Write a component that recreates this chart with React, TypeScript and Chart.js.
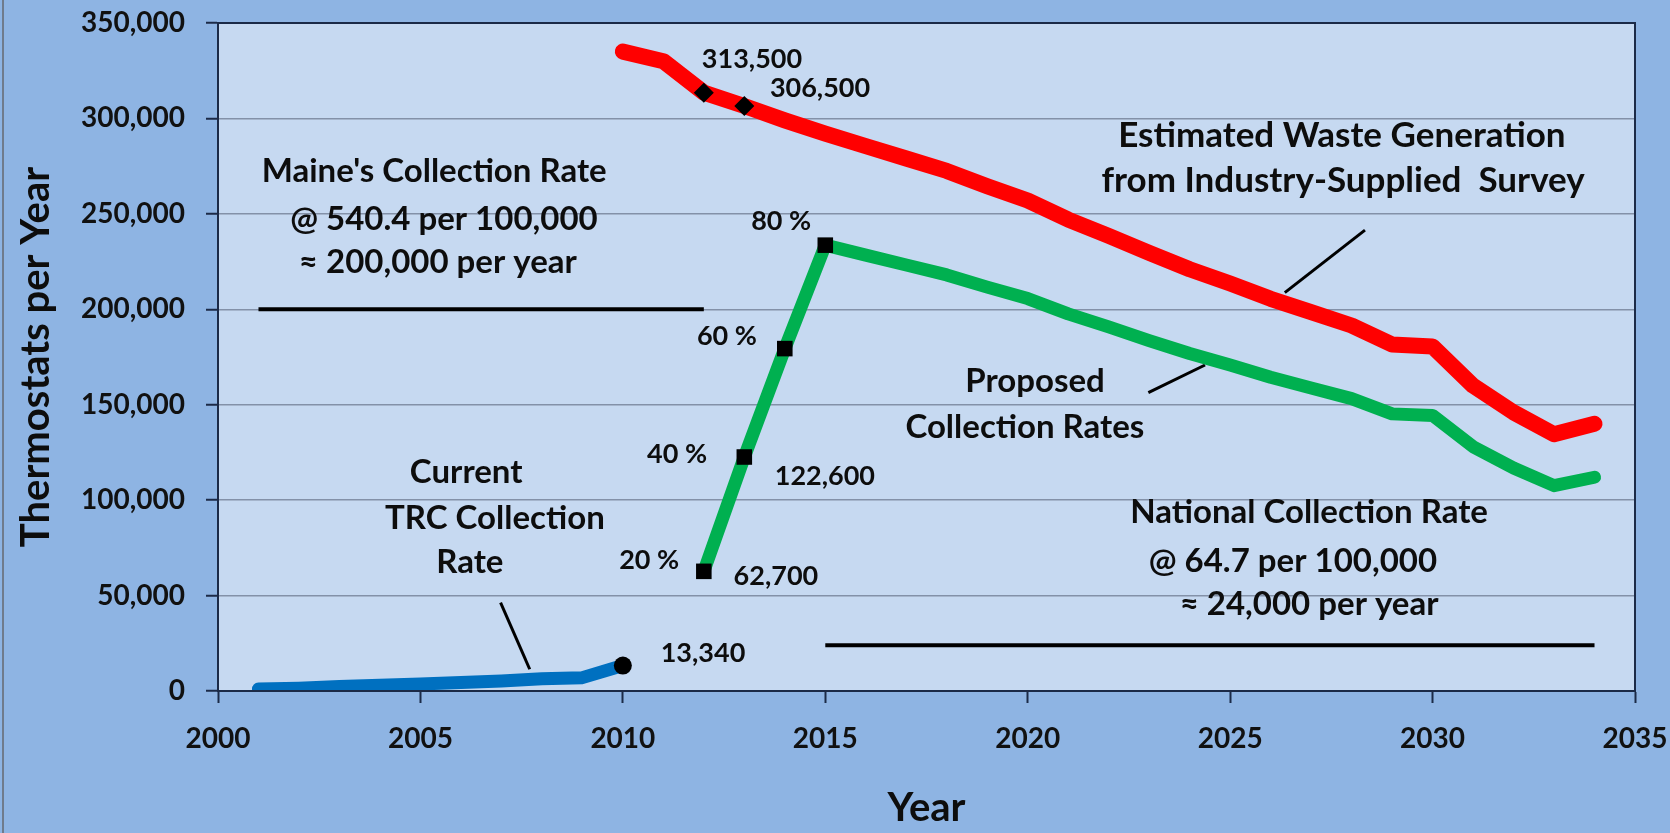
import React, { useEffect, useRef } from "react";
import { Chart, registerables } from "chart.js";

Chart.register(...registerables);

// ---------- data ----------
const generationYears = [2010, 2011, 2012, 2013, 2014, 2015, 2016, 2017, 2018, 2019, 2020, 2021, 2022, 2023, 2024, 2025, 2026, 2027, 2028, 2029, 2030, 2031, 2032, 2033, 2034];
const generationValues = [335000, 330000, 313500, 306500, 299000, 292000, 285500, 279000, 272500, 264500, 257000, 247000, 238500, 229500, 221000, 213500, 205500, 198500, 191500, 181500, 180500, 160000, 146000, 134500, 140000];

const collectionYears = [2012, 2013, 2014, 2015, 2016, 2017, 2018, 2019, 2020, 2021, 2022, 2023, 2024, 2025, 2026, 2027, 2028, 2029, 2030, 2031, 2032, 2033, 2034];
const collectionValues = [62700, 122600, 179400, 233600, 228400, 223200, 218000, 211600, 205600, 197600, 190800, 183600, 176800, 170800, 164400, 158800, 153200, 145200, 144400, 128000, 116800, 107600, 112000];

const trcYears = [2001, 2002, 2003, 2004, 2005, 2006, 2007, 2008, 2009, 2010];
const trcValues = [1000, 1500, 2300, 3000, 3700, 4400, 5200, 6400, 7000, 13340];

const maineYears = [2001, 2012];
const maineValues = [200000, 200000];
const nationalYears = [2015, 2034];
const nationalValues = [24000, 24000];

const generationMarkerYears = [2012, 2013];
const collectionMarkerYears = [2012, 2013, 2014, 2015];
const trcMarkerYears = [2010];

const leaderGenerationX = [2028.33, 2026.35];
const leaderGenerationY = [241500, 208700];
const leaderProposedX = [2024.38, 2022.98];
const leaderProposedY = [170800, 156300];
const leaderCurrentX = [2006.98, 2007.7];
const leaderCurrentY = [46300, 11400];

const xTickValues = [2000, 2005, 2010, 2015, 2020, 2025, 2030, 2035];
const yTickValues = [0, 50000, 100000, 150000, 200000, 250000, 300000, 350000];

const xTitle = "Year";
const yTitle = "Thermostats per Year";

// annotation texts (x in years, y in thermostats; y is the text baseline)
const notes = [
  { text: "313,500", x: 2013.19, y: 326400, kind: "num" },
  { text: "306,500", x: 2014.87, y: 311200, kind: "num" },
  { text: "80 %", x: 2013.91, y: 241500, kind: "num" },
  { text: "60 %", x: 2012.57, y: 181300, kind: "num" },
  { text: "40 %", x: 2011.34, y: 119500, kind: "num" },
  { text: "122,600", x: 2014.99, y: 107900, kind: "num" },
  { text: "20 %", x: 2010.65, y: 63900, kind: "num" },
  { text: "62,700", x: 2013.78, y: 55500, kind: "num" },
  { text: "13,340", x: 2011.98, y: 15200, kind: "num" },
  { text: "Current", x: 2006.13, y: 109000, kind: "txt" },
  { text: "TRC Collection", x: 2006.84, y: 84900, kind: "txt" },
  { text: "Rate", x: 2006.22, y: 61800, kind: "txt" },
  { text: "Proposed", x: 2020.18, y: 156700, kind: "txt" },
  { text: "Collection Rates", x: 2019.93, y: 132600, kind: "txt" },
  { text: "Estimated Waste Generation", x: 2027.76, y: 285000, kind: "big" },
  { text: "from Industry-Supplied  Survey", x: 2027.79, y: 261400, kind: "big" },
  { text: "National Collection Rate", x: 2026.95, y: 88000, kind: "txt" },
  { text: "@ 64.7 per 100,000", x: 2026.55, y: 62300, kind: "txt" },
  { text: "\u2248 24,000 per year", x: 2026.95, y: 39800, kind: "txt" },
  { text: "Maine's Collection Rate", x: 2005.34, y: 266700, kind: "txt" },
  { text: "@ 540.4 per 100,000", x: 2005.58, y: 241500, kind: "txt" },
  { text: "\u2248 200,000 per year", x: 2005.43, y: 219000, kind: "txt" },
];

const FONT = "Lato, 'Open Sans', sans-serif";
const NAVY = "#1b2a47";
const NOTE_FONTS: Record<string, string> = {
  num: `bold 27px ${FONT}`,
  txt: `bold 33px ${FONT}`,
  big: `bold 35px ${FONT}`,
};

const pts = (xs: number[], ys: number[]) => xs.map((x, i) => ({ x, y: ys[i] }));

const decorPlugin = {
  id: "decor",
  beforeDraw(chart: any) {
    const { ctx, width, height, chartArea } = chart;
    ctx.save();
    ctx.fillStyle = "#8eb4e3";
    ctx.fillRect(0, 0, width, height);
    ctx.fillStyle = "#c6d9f1";
    ctx.fillRect(chartArea.left, chartArea.top, chartArea.right - chartArea.left, chartArea.bottom - chartArea.top);
    ctx.strokeStyle = "#6f7b8c";
    ctx.lineWidth = 2;
    ctx.beginPath();
    ctx.moveTo(3, 0);
    ctx.lineTo(3, height);
    ctx.stroke();
    ctx.restore();
  },
  afterDraw(chart: any) {
    const { ctx, chartArea, scales } = chart;
    ctx.save();
    ctx.strokeStyle = NAVY;
    ctx.lineWidth = 2;
    ctx.strokeRect(chartArea.left, chartArea.top, chartArea.right - chartArea.left, chartArea.bottom - chartArea.top);
    ctx.fillStyle = "#0d0d0d";
    ctx.textAlign = "center";
    ctx.textBaseline = "alphabetic";
    for (const n of notes) {
      ctx.font = NOTE_FONTS[n.kind];
      ctx.fillText(n.text, scales.x.getPixelForValue(n.x), scales.y.getPixelForValue(n.y));
    }
    // axis titles
    ctx.font = `bold 40px ${FONT}`;
    ctx.textBaseline = "middle";
    ctx.fillText(xTitle, (chartArea.left + chartArea.right) / 2, 808);
    ctx.translate(36, (chartArea.top + chartArea.bottom) / 2);
    ctx.rotate(-Math.PI / 2);
    ctx.fillText(yTitle, 0, 0);
    ctx.restore();
  },
};

export default function App() {
  const ref = useRef<HTMLCanvasElement | null>(null);
  useEffect(() => {
    if (!ref.current) return;
    const markerRadius = (years: number[], r: number) => (c: any) =>
      c.raw && years.includes(c.raw.x) ? r : 0;
    const chart = new Chart(ref.current, {
      type: "line",
      data: {
        datasets: [
          {
            label: "Estimated Waste Generation",
            data: pts(generationYears, generationValues),
            borderColor: "#ff0000",
            borderWidth: 16,
            borderCapStyle: "round",
            borderJoinStyle: "round",
            pointStyle: "rectRot",
            pointRadius: markerRadius(generationMarkerYears, 10),
            pointBackgroundColor: "#000",
            pointBorderWidth: 0,
            order: 1,
          },
          {
            label: "Proposed Collection Rates",
            data: pts(collectionYears, collectionValues),
            borderColor: "#00b050",
            borderWidth: 13,
            borderCapStyle: "round",
            borderJoinStyle: "round",
            pointStyle: "rect",
            pointRadius: markerRadius(collectionMarkerYears, 11),
            pointBackgroundColor: "#000",
            pointBorderWidth: 0,
            order: 1,
          },
          {
            label: "Current TRC Collection Rate",
            data: pts(trcYears, trcValues),
            borderColor: "#0070c0",
            borderWidth: 13,
            borderCapStyle: "round",
            borderJoinStyle: "round",
            pointStyle: "circle",
            pointRadius: markerRadius(trcMarkerYears, 9),
            pointBackgroundColor: "#000",
            pointBorderWidth: 0,
            order: 1,
          },
          { label: "Maine", data: pts(maineYears, maineValues), borderColor: "#000", borderWidth: 4, pointRadius: 0, order: 2 },
          { label: "National", data: pts(nationalYears, nationalValues), borderColor: "#000", borderWidth: 4, pointRadius: 0, order: 2 },
          { label: "leader1", data: pts(leaderGenerationX, leaderGenerationY), borderColor: "#000", borderWidth: 3, pointRadius: 0, order: 2 },
          { label: "leader2", data: pts(leaderProposedX, leaderProposedY), borderColor: "#000", borderWidth: 3, pointRadius: 0, order: 2 },
          { label: "leader3", data: pts(leaderCurrentX, leaderCurrentY), borderColor: "#000", borderWidth: 3, pointRadius: 0, order: 2 },
        ],
      },
      options: {
        responsive: false,
        animation: false,
        layout: { padding: { top: 23, right: 35, left: 0, bottom: 0 } },
        plugins: { legend: { display: false }, tooltip: { enabled: false } },
        scales: {
          x: {
            type: "linear",
            min: 2000,
            max: 2035,
            afterFit: (s: any) => {
              s.height = 142;
              s.paddingLeft = 0;
              s.paddingRight = 0;
            },
            afterBuildTicks: (s: any) => { s.ticks = xTickValues.map((v) => ({ value: v })); },
            ticks: {
              callback: (v: any) => String(v),
              font: { family: FONT, size: 28, weight: "bold" },
              color: "#111",
              padding: 19,
              maxRotation: 0,
            },
            grid: { drawOnChartArea: false, drawTicks: true, tickLength: 12, tickColor: NAVY, tickWidth: 2 },
            border: { display: true, color: NAVY, width: 2 },
          },
          y: {
            min: 0,
            max: 350000,
            afterFit: (s: any) => {
              s.width = 218;
              s.paddingTop = 0;
              s.paddingBottom = 0;
            },
            afterBuildTicks: (s: any) => { s.ticks = yTickValues.map((v) => ({ value: v })); },
            ticks: {
              callback: (v: any) => Number(v).toLocaleString("en-US"),
              font: { family: FONT, size: 28, weight: "bold" },
              color: "#111",
              padding: 21,
            },
            grid: { color: "#8391a8", lineWidth: 1.5, tickLength: 12, tickColor: NAVY, tickWidth: 2 },
            border: { display: true, color: NAVY, width: 2 },
          },
        },
      },
      plugins: [decorPlugin],
    } as any);
    return () => chart.destroy();
  }, []);
  return (
    <div style={{ position: "fixed", left: 0, top: 0, width: 1670, height: 833 }}>
      <canvas ref={ref} width={1670} height={833} style={{ display: "block" }} />
    </div>
  );
}
